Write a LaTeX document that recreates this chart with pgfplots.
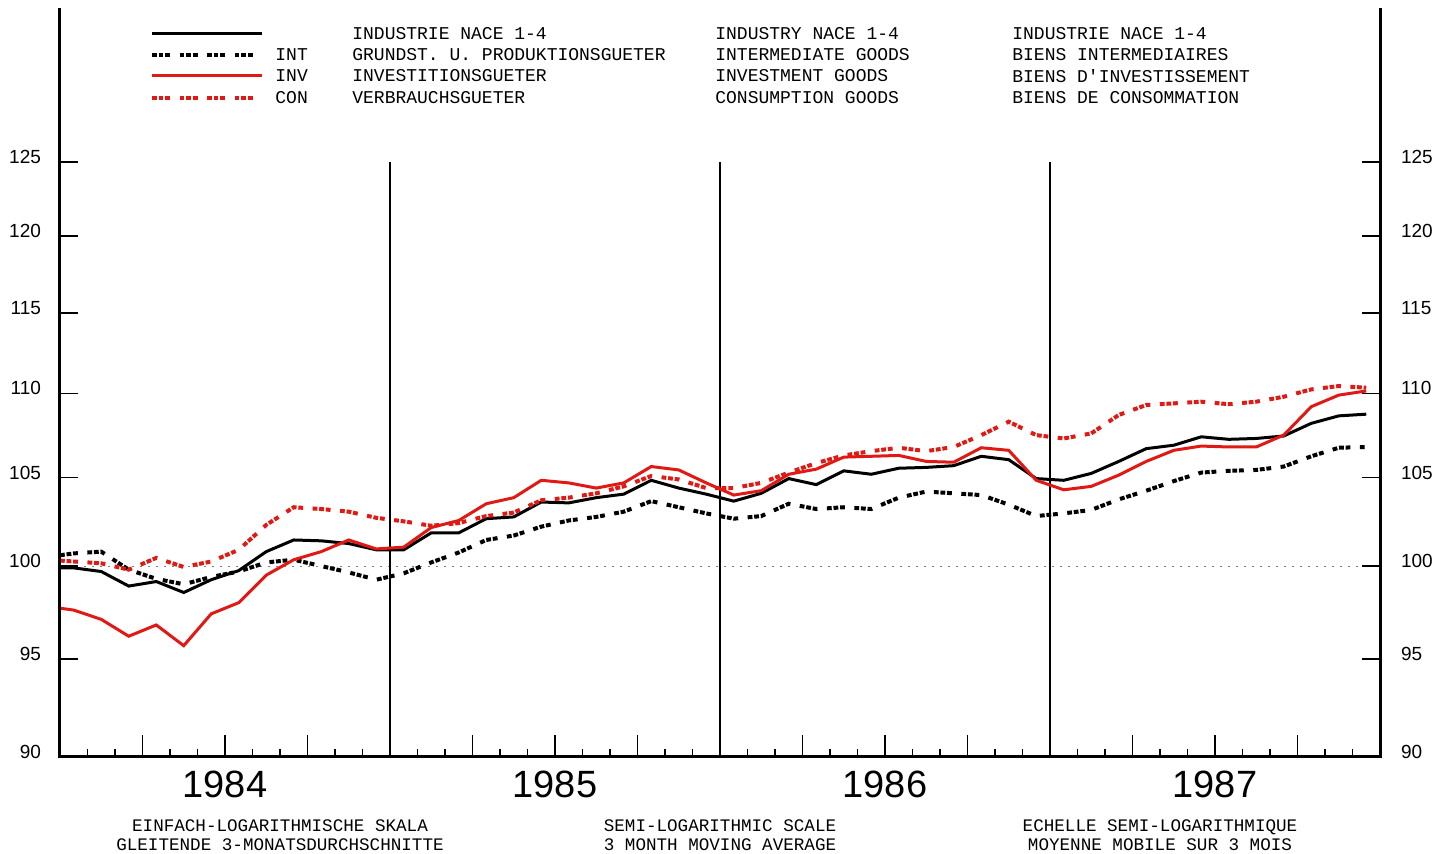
\documentclass[border=0pt]{standalone}
\usepackage{fontspec}
\setmainfont{Liberation Sans}
\newfontfamily\plotter{Liberation Mono}
\usepackage{pgfplots}
\pgfplotsset{compat=1.18}
\usepackage{pgfplotstable}

\definecolor{eured}{RGB}{225,25,20}

% monthly 3-month moving averages, x = month index (mid-month)
\pgfplotstableread{
x     ind     int     inv     con
0     99.9    100.6   97.7    100.3
0.5   99.9    100.7   97.6    100.25
1.5   99.7    100.8   97.1    100.15
2.5   98.9    99.8    96.2    99.8
3.5   99.15   99.3    96.8    100.45
4.5   98.55   99.0    95.7    99.95
5.5   99.25   99.4    97.4    100.25
6.5   99.75   99.7    98.0    100.9
7.5   100.8   100.2   99.5    102.3
8.5   101.45  100.35  100.35  103.3
9.5   101.4   100.0   100.8   103.2
10.5  101.25  99.65   101.45  103.05
11.5  100.9   99.25   100.95  102.7
12.5  100.9   99.6    101.05  102.5
13.5  101.85  100.2   102.15  102.25
14.5  101.85  100.75  102.55  102.4
15.5  102.65  101.45  103.5   102.8
16.5  102.75  101.7   103.85  103.0
17.5  103.6   102.2   104.85  103.7
18.5  103.55  102.55  104.7   103.85
19.5  103.85  102.75  104.4   104.1
20.5  104.05  103.05  104.7   104.5
21.5  104.85  103.65  105.65  105.1
22.5  104.4   103.3   105.45  104.9
23.5  104.05  102.95  104.7   104.4
24.5  103.65  102.65  104.0   104.4
25.5  104.1   102.8   104.25  104.7
26.5  104.95  103.5   105.2   105.3
27.5  104.6   103.2   105.5   105.85
28.5  105.4   103.3   106.2   106.3
29.5  105.2   103.2   106.25  106.55
30.5  105.55  103.85  106.3   106.75
31.5  105.6   104.2   105.95  106.55
32.5  105.7   104.1   105.9   106.8
33.5  106.25  104.0   106.75  107.5
34.5  106.05  103.45  106.6   108.3
35.5  104.95  102.8   104.85  107.5
36.5  104.85  102.95  104.3   107.3
37.5  105.25  103.15  104.5   107.6
38.5  105.95  103.75  105.15  108.7
39.5  106.7   104.25  105.95  109.3
40.5  106.9   104.8   106.6   109.4
41.5  107.4   105.3   106.85  109.5
42.5  107.25  105.4   106.8   109.35
43.5  107.3   105.45  106.8   109.5
44.5  107.45  105.65  107.5   109.8
45.5  108.2   106.25  109.2   110.25
46.5  108.65  106.75  109.9   110.45
47.5  108.75  106.8   110.15  110.35
}\data

\tikzset{
  blocks/.style={line width=2pt, dash pattern=on 2.4pt off 0.9pt on 2.4pt off 0.9pt on 2.4pt off 4.75pt},
  solidline/.style={line width=1.5pt},
  legtext/.style={anchor=west, inner sep=0pt, font=\plotter\fontsize{9}{10}\selectfont},
  notetext/.style={align=center, font=\plotter\fontsize{8.8}{9.5}\selectfont},
}

\begin{document}
\begin{tikzpicture}
\begin{axis}[
    name=main,
    scale only axis, width=660pt, height=374.5pt,
    xmin=0, xmax=48, ymode=log, ymin=90, ymax=136.1,
    axis line style={draw=none},
    tick align=inside,
    tick style={black, line width=0.75pt},
    xtick={0,3,...,48}, minor x tick num=2,
    xticklabels={}, xtick pos=bottom,
    ytick=\empty,
    major tick length=11pt, minor tick length=4pt,
    clip=false,
]
% reference line at 100 and year separators
\draw[gray, line width=0.5pt, dash pattern=on 1pt off 3pt] (axis cs:0,100) -- (axis cs:48,100);
\draw[line width=0.7pt] (axis cs:12,90) -- (axis cs:12,125);
\draw[line width=0.7pt] (axis cs:24,90) -- (axis cs:24,125);
\draw[line width=0.7pt] (axis cs:36,90) -- (axis cs:36,125);

\addplot[black, blocks] table[x=x, y=int] {\data};
\addplot[black, solidline] table[x=x, y=ind] {\data};
\addplot[eured, solidline] table[x=x, y=inv] {\data};
\addplot[eured, blocks] table[x=x, y=con] {\data};

% frame: left, bottom, right
\draw[line width=1.5pt] (rel axis cs:0,1) -- (rel axis cs:0,0) -- (rel axis cs:1,0) -- (rel axis cs:1,1);

% years
\node[font=\fontsize{19}{19}\selectfont] at ([yshift=-14pt]axis cs:6,90) {1984};
\node[font=\fontsize{19}{19}\selectfont] at ([yshift=-14pt]axis cs:18,90) {1985};
\node[font=\fontsize{19}{19}\selectfont] at ([yshift=-14pt]axis cs:30,90) {1986};
\node[font=\fontsize{19}{19}\selectfont] at ([yshift=-14pt]axis cs:42,90) {1987};

% notes under the axis
\node[notetext] at ([yshift=-39pt]axis cs:8,90)
  {EINFACH-LOGARITHMISCHE SKALA\\GLEITENDE 3-MONATSDURCHSCHNITTE};
\node[notetext] at ([yshift=-39pt]axis cs:24,90)
  {SEMI-LOGARITHMIC SCALE\\3 MONTH MOVING AVERAGE};
\node[notetext] at ([yshift=-39pt]axis cs:40,90)
  {ECHELLE SEMI-LOGARITHMIQUE\\MOYENNE MOBILE SUR 3 MOIS};

% legend block
\draw[black, solidline] ([yshift=-13pt]rel axis cs:0.0697,1) -- ([yshift=-13pt]rel axis cs:0.1530,1);
\draw[black, blocks] ([yshift=-23.5pt]rel axis cs:0.0697,1) -- ([yshift=-23.5pt]rel axis cs:0.1530,1);
\draw[eured, solidline] ([yshift=-34pt]rel axis cs:0.0697,1) -- ([yshift=-34pt]rel axis cs:0.1530,1);
\draw[eured, blocks] ([yshift=-45pt]rel axis cs:0.0697,1) -- ([yshift=-45pt]rel axis cs:0.1530,1);

\node[legtext] at ([yshift=-23.5pt]rel axis cs:0.1629,1) {INT};
\node[legtext] at ([yshift=-34pt]rel axis cs:0.1629,1) {INV};
\node[legtext] at ([yshift=-45pt]rel axis cs:0.1629,1) {CON};

\node[legtext] at ([yshift=-13pt]rel axis cs:0.2212,1) {INDUSTRIE NACE 1-4};
\node[legtext] at ([yshift=-23.5pt]rel axis cs:0.2212,1) {GRUNDST. U. PRODUKTIONSGUETER};
\node[legtext] at ([yshift=-34pt]rel axis cs:0.2212,1) {INVESTITIONSGUETER};
\node[legtext] at ([yshift=-45pt]rel axis cs:0.2212,1) {VERBRAUCHSGUETER};

\node[legtext] at ([yshift=-13pt]rel axis cs:0.4962,1) {INDUSTRY NACE 1-4};
\node[legtext] at ([yshift=-23.5pt]rel axis cs:0.4962,1) {INTERMEDIATE GOODS};
\node[legtext] at ([yshift=-34pt]rel axis cs:0.4962,1) {INVESTMENT GOODS};
\node[legtext] at ([yshift=-45pt]rel axis cs:0.4962,1) {CONSUMPTION GOODS};

\node[legtext] at ([yshift=-13pt]rel axis cs:0.7212,1) {INDUSTRIE NACE 1-4};
\node[legtext] at ([yshift=-23.5pt]rel axis cs:0.7212,1) {BIENS INTERMEDIAIRES};
\node[legtext] at ([yshift=-34pt]rel axis cs:0.7212,1) {BIENS D'INVESTISSEMENT};
\node[legtext] at ([yshift=-45pt]rel axis cs:0.7212,1) {BIENS DE CONSOMMATION};
\end{axis}

% left tick labels
\begin{axis}[
    at={(main.south west)}, anchor=south west,
    scale only axis, width=660pt, height=374.5pt,
    xmin=0, xmax=48, ymode=log, ymin=90, ymax=136.1,
    axis line style={draw=none},
    tick align=inside, tick style={black, line width=0.75pt},
    xtick=\empty,
    ytick={90,95,100,105,110,115,120,125},
    yticklabels={90,95,100,105,110,115,120,125},
    major tick length=9pt,
    ytick pos=left, yticklabel pos=left,
    yticklabel style={font=\fontsize{9.5}{10}\selectfont, xshift=-6pt, yshift=2.5pt},
]
\end{axis}

% right tick labels
\begin{axis}[
    at={(main.south west)}, anchor=south west,
    scale only axis, width=660pt, height=374.5pt,
    xmin=0, xmax=48, ymode=log, ymin=90, ymax=136.1,
    axis line style={draw=none},
    tick align=inside, tick style={black, line width=0.75pt},
    xtick=\empty,
    ytick={90,95,100,105,110,115,120,125},
    yticklabels={90,95,100,105,110,115,120,125},
    major tick length=9pt,
    ytick pos=right, yticklabel pos=right,
    yticklabel style={font=\fontsize{9.5}{10}\selectfont, xshift=7pt, yshift=2.5pt},
]
\end{axis}

\pgfresetboundingbox
\path[use as bounding box] ([xshift=-30pt, yshift=-48.5pt]main.south west) rectangle ([xshift=34pt, yshift=4pt]main.north east);
\end{tikzpicture}
\end{document}
